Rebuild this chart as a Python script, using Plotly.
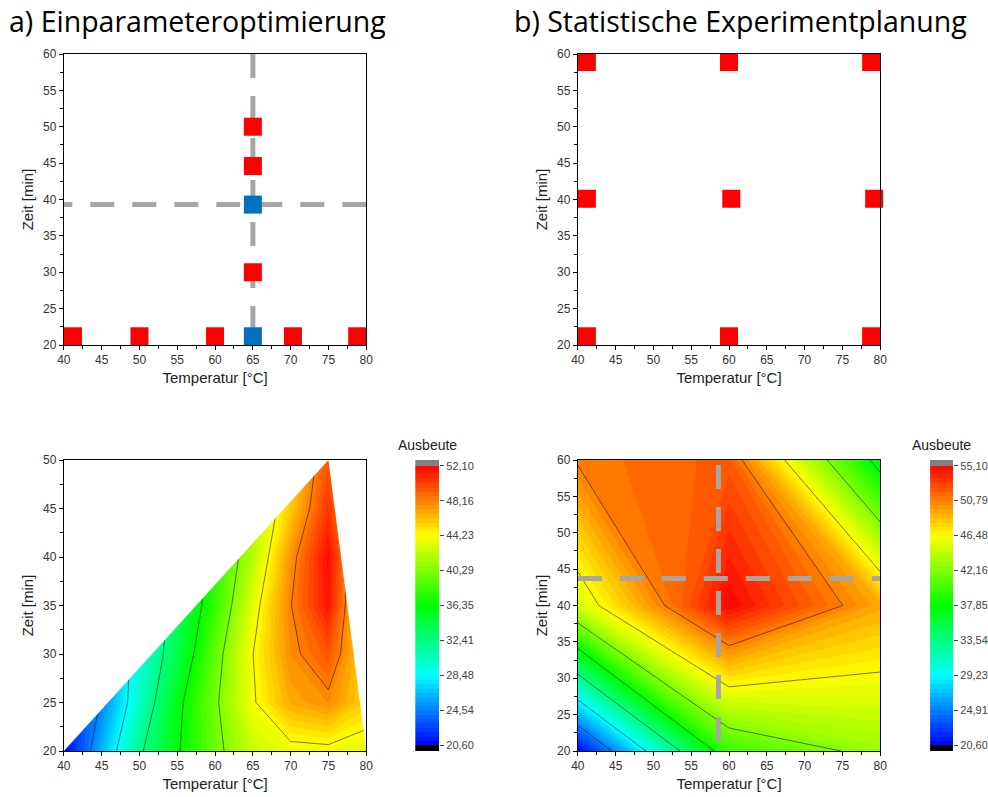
import plotly.graph_objects as go

# ---------------- DATA ----------------
# a) Einparameteroptimierung (one-factor-at-a-time experiments)
oft_red_temp = [41.2, 50.0, 60.0, 70.3, 78.8, 65.0, 65.0, 65.0]
oft_red_time = [21.2, 21.2, 21.2, 21.2, 21.2, 30.0, 44.6, 50.0]
oft_blue_temp = [65.0, 65.0]
oft_blue_time = [21.2, 39.3]
oft_opt_temp = 65.0
oft_opt_time = 39.3

# b) Statistische Experimentplanung (design points)
doe_temp = [41.2, 60.0, 78.8, 41.2, 60.3, 79.2, 41.2, 60.0, 78.8]
doe_time = [58.9, 58.9, 58.9, 40.1, 40.1, 40.1, 21.2, 21.2, 21.2]
doe_opt_temp = 58.6
doe_opt_time = 43.7

# yield surface a) (estimated from the picture)
yield_a_temp = [40, 45, 50, 55, 60, 65, 70, 75, 80]
yield_a_time = [20, 25, 30, 35, 40, 45, 50]
yield_a_z = [
    [20.6, 26.2, 32.0, 36.1, 39.6, 42.5, 43.6, 43.7, 43.2],
    [21.5, 24.7, 30.2, 35.7, 39.9, 44.0, 46.8, 47.7, 45.5],
    [22.0, 25.5, 29.5, 34.1, 39.25, 44.2, 47.7, 49.5, 45.3],
    [20.5, 25.0, 29.5, 33.5, 37.9, 43.35, 48.1, 51.5, 44.0],
    [20.0, 24.0, 28.5, 33.0, 37.5, 41.95, 47.5, 51.8, 44.0],
    [19.5, 23.5, 28.0, 32.5, 37.0, 41.5, 45.8, 50.5, 44.0],
    [19.0, 23.0, 27.5, 32.0, 36.5, 41.0, 45.5, 49.5, 44.0],
]
# measured domain (convex hull) of surface a)
hull_a_temp = [40, 75, 80]
hull_a_time = [20, 50, 20]

# yield surface b) (3x3 design)
yield_b_temp = [40, 60, 80]
yield_b_time = [20, 40, 60]
yield_b_z = [
    [20.6, 39.75, 43.0],
    [45.1, 55.0, 49.4],
    [51.0, 52.1, 36.8],
]

cbar_a_ticks = [20.60, 24.54, 28.48, 32.41, 36.35, 40.29, 44.23, 48.16, 52.10]
cbar_b_ticks = [20.60, 24.91, 29.23, 33.54, 37.85, 42.16, 46.48, 50.79, 55.10]

# ---------------- STYLE ----------------
W, H = 988, 797
FONT = "Liberation Sans, Arial, sans-serif"
RED = "#FF0000"
BLUE = "#0070C0"
GREY = "#A6A6A6"
DASH = "24px,18px"
N_BANDS = 64


def px_x(a, b):
    return [a / W, b / W]


def px_y(top, bottom):
    return [1 - bottom / H, 1 - top / H]


def rainbow(f):
    stops = [(0.0, (0, 0, 255)), (0.25, (0, 255, 255)), (0.5, (0, 255, 0)),
             (0.75, (255, 255, 0)), (1.0, (255, 0, 0))]
    f = min(max(f, 0.0), 1.0)
    for (p0, c0), (p1, c1) in zip(stops[:-1], stops[1:]):
        if f <= p1:
            t = (f - p0) / (p1 - p0)
            c = [round(c0[i] + (c1[i] - c0[i]) * t) for i in range(3)]
            return "rgb(%d,%d,%d)" % tuple(c)
    return "rgb(255,0,0)"


def band_scale():
    cs = [[0.0, "rgb(0,0,0)"]]
    for k in range(1, N_BANDS + 1):
        cs.append([k / (N_BANDS + 1), rainbow((k - 0.5) / N_BANDS)])
    cs.append([1.0, "rgb(128,128,128)"])
    return cs


SCALE = band_scale()


def fmt(v):
    return ("%.2f" % v).replace(".", ",")


fig = go.Figure()

# ---------- a) top-left ----------
fig.add_trace(go.Scatter(x=[80, 40], y=[oft_opt_time, oft_opt_time], mode="lines",
                         line=dict(color=GREY, width=5, dash=DASH), xaxis="x", yaxis="y",
                         showlegend=False, hoverinfo="skip"))
fig.add_trace(go.Scatter(x=[oft_opt_temp, oft_opt_temp], y=[60, 20], mode="lines",
                         line=dict(color=GREY, width=5, dash=DASH), xaxis="x", yaxis="y",
                         showlegend=False, hoverinfo="skip"))
fig.add_trace(go.Scatter(x=oft_red_temp, y=oft_red_time, mode="markers",
                         marker=dict(symbol="square", size=18, color=RED, line=dict(width=0)),
                         cliponaxis=False, xaxis="x", yaxis="y", showlegend=False))
fig.add_trace(go.Scatter(x=oft_blue_temp, y=oft_blue_time, mode="markers",
                         marker=dict(symbol="square", size=18, color=BLUE, line=dict(width=0)),
                         cliponaxis=False, xaxis="x", yaxis="y", showlegend=False))

# ---------- b) top-right ----------
fig.add_trace(go.Scatter(x=doe_temp, y=doe_time, mode="markers",
                         marker=dict(symbol="square", size=18, color=RED, line=dict(width=0)),
                         cliponaxis=False, xaxis="x2", yaxis="y2", showlegend=False))


def add_surface(xs, ys, zs, ticks, xa, ya):
    lo, hi = ticks[0], ticks[-1]
    fig.add_trace(go.Contour(
        x=xs, y=ys, z=zs, colorscale=SCALE, autocontour=False,
        contours=dict(start=lo, end=hi, size=(hi - lo) / N_BANDS, coloring="fill", showlines=False),
        line=dict(width=0, smoothing=0), showscale=False, xaxis=xa, yaxis=ya, hoverinfo="skip"))
    step = (hi - lo) / (len(ticks) - 1)
    fig.add_trace(go.Contour(
        x=xs, y=ys, z=zs, autocontour=False,
        contours=dict(start=ticks[1], end=ticks[-2] + step / 2, size=step, coloring="none"),
        line=dict(color="rgba(0,0,0,0.75)", width=0.7, smoothing=0),
        showscale=False, xaxis=xa, yaxis=ya, hoverinfo="skip"))


# ---------- c) bottom-left ----------
add_surface(yield_a_temp, yield_a_time, yield_a_z, cbar_a_ticks, "x3", "y3")
# white masks outside the measured (triangular) domain
lx, ax_, rx = hull_a_temp
ly, ay, ry = hull_a_time
top = max(yield_a_time) + 1
fig.add_trace(go.Scatter(x=[lx, ax_, ax_, lx - 1, lx - 1, lx], y=[ly, ay, top, top, ly, ly],
                         mode="lines", fill="toself", fillcolor="white", line=dict(width=0),
                         xaxis="x3", yaxis="y3", showlegend=False, hoverinfo="skip"))
fig.add_trace(go.Scatter(x=[ax_, rx, rx + 1, rx + 1, ax_, ax_], y=[ay, ry, ry, top, top, ay],
                         mode="lines", fill="toself", fillcolor="white", line=dict(width=0),
                         xaxis="x3", yaxis="y3", showlegend=False, hoverinfo="skip"))

# ---------- d) bottom-right ----------
add_surface(yield_b_temp, yield_b_time, yield_b_z, cbar_b_ticks, "x4", "y4")
fig.add_trace(go.Scatter(x=[40, 80], y=[doe_opt_time, doe_opt_time], mode="lines",
                         line=dict(color=GREY, width=5, dash=DASH), xaxis="x4", yaxis="y4",
                         showlegend=False, hoverinfo="skip"))
fig.add_trace(go.Scatter(x=[doe_opt_temp, doe_opt_temp], y=[max(doe_time) + 0.4, min(doe_time)],
                         mode="lines", line=dict(color=GREY, width=5, dash=DASH),
                         xaxis="x4", yaxis="y4", showlegend=False, hoverinfo="skip"))


# ---------- colour bars ----------
def add_cbar(ticks, xa, ya):
    lo, hi = ticks[0], ticks[-1]
    cs = (hi - lo) / N_BANDS
    cap = (hi - lo) * 0.0204
    edges = [lo - cap] + [lo + i * cs for i in range(N_BANDS + 1)] + [hi + cap]
    zcol = [[k] for k in range(N_BANDS + 2)]
    fig.add_trace(go.Heatmap(x=[0, 1], y=edges, z=zcol, colorscale=SCALE, zmin=0,
                             zmax=N_BANDS + 1, showscale=False, xaxis=xa, yaxis=ya,
                             hoverinfo="skip"))
    return [lo - cap, hi + cap]


rng_a = add_cbar(cbar_a_ticks, "x5", "y5")
rng_b = add_cbar(cbar_b_ticks, "x6", "y6")


def axis(dom, rng, title, anchor):
    return dict(domain=dom, range=rng, anchor=anchor, showline=True, linecolor="black",
                linewidth=1, mirror=True, ticks="outside", ticklen=4, tickwidth=1,
                tickcolor="black", showgrid=False, zeroline=False, dtick=5, tick0=0,
                tickfont=dict(family=FONT, size=12, color="#333333"),
                minor=dict(ticks="outside", ticklen=3, tickcolor="black", dtick=2.5,
                           tick0=0, showgrid=False),
                title=dict(text=title, font=dict(family=FONT, size=15, color="#222222"),
                           standoff=6),
                automargin=False, layer="above traces", fixedrange=True)


XT = "Temperatur [°C]"
YT = "Zeit [min]"
top_y = px_y(54, 345)
bot_y = px_y(460, 751)
left_x = px_x(64, 367)
right_x = px_x(579, 882)

layout = dict(
    width=W, height=H, margin=dict(l=0, r=0, t=0, b=0),
    paper_bgcolor="white", plot_bgcolor="white", showlegend=False,
    xaxis=axis(left_x, [40, 80], XT, "y"),
    yaxis=axis(top_y, [20, 60], YT, "x"),
    xaxis2=axis(right_x, [40, 80], XT, "y2"),
    yaxis2=axis(top_y, [20, 60], YT, "x2"),
    xaxis3=axis(left_x, [40, 80], XT, "y3"),
    yaxis3=axis(bot_y, [20, 50], YT, "x3"),
    xaxis4=axis(right_x, [40, 80], XT, "y4"),
    yaxis4=axis(bot_y, [20, 60], YT, "x4"),
)
for k in ("yaxis", "yaxis2", "yaxis3", "yaxis4"):
    layout[k]["title"]["standoff"] = 5


def cb_axes(xdom, rng, ticks, anchor_x, anchor_y):
    xa = dict(domain=xdom, range=[0, 1], visible=False, anchor=anchor_y, fixedrange=True)
    ya = dict(domain=bot_y, range=rng, anchor=anchor_x, side="right", showline=False,
              showgrid=False, zeroline=False, ticks="outside", ticklen=4, tickwidth=1,
              tickcolor="#444444", tickvals=ticks, ticktext=[fmt(v) for v in ticks],
              tickfont=dict(family=FONT, size=11, color="#444444"), fixedrange=True)
    return xa, ya


layout["xaxis5"], layout["yaxis5"] = cb_axes(px_x(416, 440), rng_a, cbar_a_ticks, "x5", "y5")
layout["xaxis6"], layout["yaxis6"] = cb_axes(px_x(932, 955), rng_b, cbar_b_ticks, "x6", "y6")

TITLE_FONT = dict(family="Open Sans, Noto Sans, sans-serif", size=28.5, color="black")
layout["annotations"] = [
    dict(text="a) Einparameteroptimierung", xref="paper", yref="paper", x=7 / W, y=1 - 0 / H,
         xanchor="left", yanchor="top", showarrow=False, font=TITLE_FONT),
    dict(text="b) Statistische Experimentplanung", xref="paper", yref="paper", x=513 / W,
         y=1 - 0 / H, xanchor="left", yanchor="top", showarrow=False, font=TITLE_FONT),
    dict(text="Ausbeute", xref="paper", yref="paper", x=428 / W, y=1 - 445 / H,
         xanchor="center", yanchor="middle", showarrow=False,
         font=dict(family=FONT, size=14, color="#222222")),
    dict(text="Ausbeute", xref="paper", yref="paper", x=943 / W, y=1 - 445 / H,
         xanchor="center", yanchor="middle", showarrow=False,
         font=dict(family=FONT, size=14, color="#222222")),
]

fig.update_layout(**layout)
fig.write_html("out.html")
